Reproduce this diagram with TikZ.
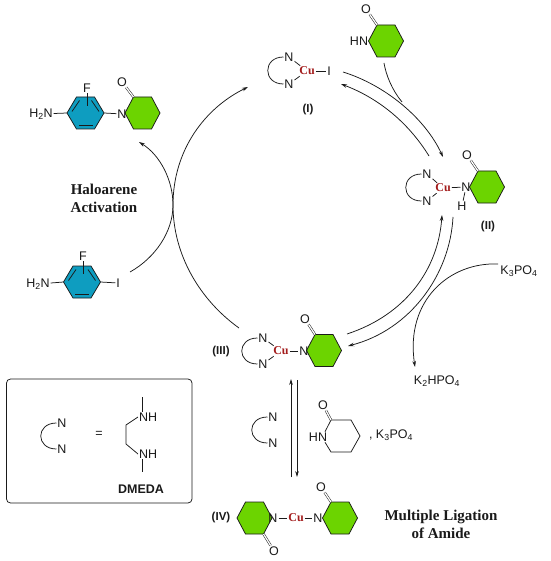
\documentclass[tikz,border=0pt]{standalone}
\usepackage{fontspec}
\setmainfont{Liberation Sans}
\newfontfamily\serifb{Liberation Serif}[Ligatures=TeX]
\usetikzlibrary{arrows.meta}
\definecolor{amidegreen}{HTML}{6CD400}
\definecolor{arteal}{HTML}{0E9DC0}
\definecolor{cured}{HTML}{A31C1C}
\definecolor{ink}{HTML}{1A1A1A}
\tikzset{
  atom/.style={inner sep=0.8pt,font=\fontsize{12.5}{14}\selectfont,text=ink},
  cuatom/.style={inner sep=1pt,font=\fontsize{12}{14}\selectfont\serifb\bfseries,text=cured},
  tag/.style={inner sep=0pt,font=\fontsize{11.5}{14}\selectfont\bfseries,text=ink},
  dmtag/.style={inner sep=0pt,font=\fontsize{12.5}{14}\selectfont\bfseries,text=ink},
  heading/.style={inner sep=0pt,align=center,font=\fontsize{15}{18}\selectfont\serifb\bfseries,text=ink},
  bond/.style={draw=ink,line width=.75pt},
  ring/.style={draw=ink,line width=.75pt,line join=miter},
  dbond/.style={draw=ink,line width=.5pt,double=white,double distance=1.3pt},
  flow/.style={draw=ink,line width=.75pt,-{Stealth[length=6pt,width=3.6pt]}},
  plainflow/.style={draw=ink,line width=.75pt},
}
% name, cx, cy, half width, half top width, half height
\newcommand{\ringat}[6]{%
  \coordinate (#1) at (#2,#3);
  \begin{scope}[shift={(#2,#3)}]
    \coordinate (#1-l) at (-#4,0);
    \coordinate (#1-tl) at (-#5,-#6);
    \coordinate (#1-tr) at (#5,-#6);
    \coordinate (#1-r) at (#4,0);
    \coordinate (#1-br) at (#5,#6);
    \coordinate (#1-bl) at (-#5,#6);
  \end{scope}}
\newcommand{\greenring}[3]{%
  \ringat{#1}{#2}{#3}{17.5}{9}{16}
  \draw[ring,fill=amidegreen] (#1-l)--(#1-tl)--(#1-tr)--(#1-r)--(#1-br)--(#1-bl)--cycle;}
\newcommand{\tealring}[3]{%
  \ringat{#1}{#2}{#3}{18.5}{9}{16}
  \draw[ring,fill=arteal] (#1-l)--(#1-tl)--(#1-tr)--(#1-r)--(#1-br)--(#1-bl)--cycle;
  \begin{scope}[shift={(#2,#3)}]
    \draw[bond] (-13.5,-1.5)--(-6,-12.5);
    \draw[bond] (13.5,-1.5)--(6,-12.5);
    \draw[bond] (-7,12.5)--(7,12.5);
  \end{scope}}
% prefix, x, y of upper N, gap
\newcommand{\chelate}[4]{%
  \node[atom] (#1a) at (#2,#3) {N};
  \node[atom] (#1b) at (#2,#3+#4) {N};
  \draw[bond] (#1a.west) .. controls +(-21,0) and +(-21,0) .. (#1b.west);}
\begin{document}
\begin{tikzpicture}[x=1pt,y=-1pt]
\useasboundingbox (0,0) rectangle (550,561);
\fill[white] (0,0) rectangle (550,561);

% product
\tealring{pa}{85.5}{113}
\greenring{pb}{142.5}{113}
\node[atom] (pf) at (87,88) {F};
\node[atom] (pnh) at (41,114) {H\textsubscript{2}N};
\node[atom] (pn) at (122,114) {N};
\node[atom] (po) at (122,82) {O};
\draw[bond] (pnh) -- (pa-l);
\draw[bond] (pa-r) -- (pn);
\draw[bond] (pf) -- (87,106);
\draw[dbond] (pb-tl) -- (po);

% aryl iodide
\tealring{sa}{82}{282}
\node[atom] (sf) at (83,256) {F};
\node[atom] (snh) at (38,284) {H\textsubscript{2}N};
\node[atom] (si) at (118,283) {I};
\draw[bond] (snh) -- (sa-l);
\draw[bond] (sa-r) -- (si);
\draw[bond] (sf) -- (83,274);

% complex I
\chelate{ca}{289}{57}{27}
\node[cuatom] (cacu) at (307,71) {Cu};
\node[atom] (cai) at (329,71) {I};
\draw[bond] (caa) -- (cacu);
\draw[bond] (cab) -- (cacu);
\draw[bond] (cacu) -- (cai);
\node[tag] (lab1) at (308,110) {(I)};

% free amide, top
\greenring{ta}{386}{41}
\node[atom] (tn) at (359,41) {HN};
\node[atom] (to) at (366,9) {O};
\draw[dbond] (ta-tl) -- (to);

% complex II
\greenring{cbr}{487}{187}
\chelate{cb}{427}{174}{27}
\node[cuatom] (cbcu) at (443,188) {Cu};
\node[atom] (cbn) at (466,187) {N};
\node[atom] (cbh) at (462,206) {H};
\node[atom] (cbo) at (467,155) {O};
\draw[bond] (cba) -- (cbcu);
\draw[bond] (cbb) -- (cbcu);
\draw[bond] (cbcu) -- (cbn);
\draw[bond] (cbn) -- (cbh);
\draw[dbond] (cbr-tl) -- (cbo);
\node[tag] (lab2) at (488,227) {(II)};

% complex III
\greenring{ccr}{324}{350.5}
\chelate{cc}{263}{338}{26}
\node[cuatom] (cccu) at (281,351) {Cu};
\node[atom] (ccn) at (304,351) {N};
\node[atom] (cco) at (305,319) {O};
\draw[bond] (cca) -- (cccu);
\draw[bond] (ccb) -- (cccu);
\draw[bond] (cccu) -- (ccn);
\draw[dbond] (ccr-tl) -- (cco);
\node[tag] (lab3) at (221,352) {(III)};

% complex IV
\greenring{cdl}{254.5}{518}
\greenring{cdr}{340}{518}
\node[atom] (cdna) at (273,518) {N};
\node[cuatom] (cdcu) at (296,518) {Cu};
\node[atom] (cdnb) at (318,518) {N};
\node[atom] (cdoa) at (274,551) {O};
\node[atom] (cdob) at (321,487) {O};
\draw[bond] (cdna) -- (cdcu);
\draw[bond] (cdcu) -- (cdnb);
\draw[dbond] (cdl-br) -- (cdoa);
\draw[dbond] (cdr-tl) -- (cdob);
\node[tag] (lab4) at (221,518) {(IV)};

% ligand and amide at the equilibrium
\chelate{cl}{273}{417}{26}
\ringat{pl}{341}{436}{19}{10}{16}
\node[atom] (pln) at (318,437) {HN};
\node[atom] (plo) at (323,405) {O};
\draw[bond] ([xshift=-3pt]pln.north east) -- (pl-tl) -- (pl-tr) -- (pl-r) -- (pl-br) -- (pl-bl) -- ([xshift=-3pt]pln.south east);
\draw[dbond] (pl-tl) -- (plo);
\node[atom,anchor=west] (plk) at (368,435) {, K\textsubscript{3}PO\textsubscript{4}};

% reagents
\node[atom] (k3) at (519,271) {K\textsubscript{3}PO\textsubscript{4}};
\node[atom] (k2) at (437,381) {K\textsubscript{2}HPO\textsubscript{4}};

% headings
\node[heading] (hh) at (104,198) {Haloarene\\Activation};
\node[heading] (hm) at (441,524.5) {Multiple Ligation\\of Amide};

% cycle arrows
\coordinate (s1) at (130,272);
\coordinate (m1) at (173,205);
\coordinate (e1) at (248,87);
\draw[flow] (s1) .. controls (155,258) and (173,232) .. (m1) .. controls (173,150) and (205,108) .. (e1);
\coordinate (s2) at (239,328);
\coordinate (e2) at (139,142);
\draw[flow] (s2) .. controls (200,300) and (173,255) .. (m1) .. controls (173,180) and (160,155) .. (e2);

\coordinate (s3) at (343,72);
\coordinate (e3) at (443,157);
\draw[flow] (s3) .. controls (385,85) and (425,118) .. (e3);
\coordinate (s4) at (429,156);
\coordinate (e4) at (341,84);
\draw[flow] (s4) .. controls (408,122) and (378,98) .. (e4);
\coordinate (s5) at (384,63);
\coordinate (e5) at (402,102);
\draw[plainflow] (s5) .. controls (386,75) and (392,90) .. (e5);

\coordinate (s6) at (347,334);
\coordinate (e6) at (442,215);
\draw[flow] (s6) .. controls (405,315) and (438,270) .. (e6);
\coordinate (s7) at (453,217);
\coordinate (e7) at (348,346);
\draw[flow] (s7) .. controls (450,275) and (410,330) .. (e7);
\coordinate (s8) at (498,264);
\coordinate (e8) at (415,367);
\draw[flow] (s8) .. controls (450,262) and (405,300) .. (e8);

\coordinate (s9) at (291,477);
\coordinate (e9) at (291,379);
\draw[flow] (s9) -- (e9);
\coordinate (s10) at (297,380);
\coordinate (e10) at (297,477);
\draw[flow] (s10) -- (e10);

% legend box
\draw[draw=ink,line width=.75pt,rounded corners=4pt] (6.5,379) rectangle (192,503);
\chelate{lg}{62}{423}{26}
\node[atom] (eq) at (99,434) {=};
\node[atom,anchor=west] (nh1) at (138,417) {NH};
\node[atom,anchor=west] (nh2) at (138,454) {NH};
\coordinate (m1a) at (142,397);
\coordinate (m2a) at (142,472);
\coordinate (ca1) at (126,425);
\coordinate (ca2) at (126,444);
\draw[bond] (m1a) -- ([xshift=4pt]nh1.north west);
\draw[bond] (nh1.west) -- (ca1) -- (ca2) -- (nh2.west);
\draw[bond] ([xshift=4pt]nh2.south west) -- (m2a);
\node[dmtag] (dm) at (141,489) {DMEDA};
\end{tikzpicture}
\end{document}
